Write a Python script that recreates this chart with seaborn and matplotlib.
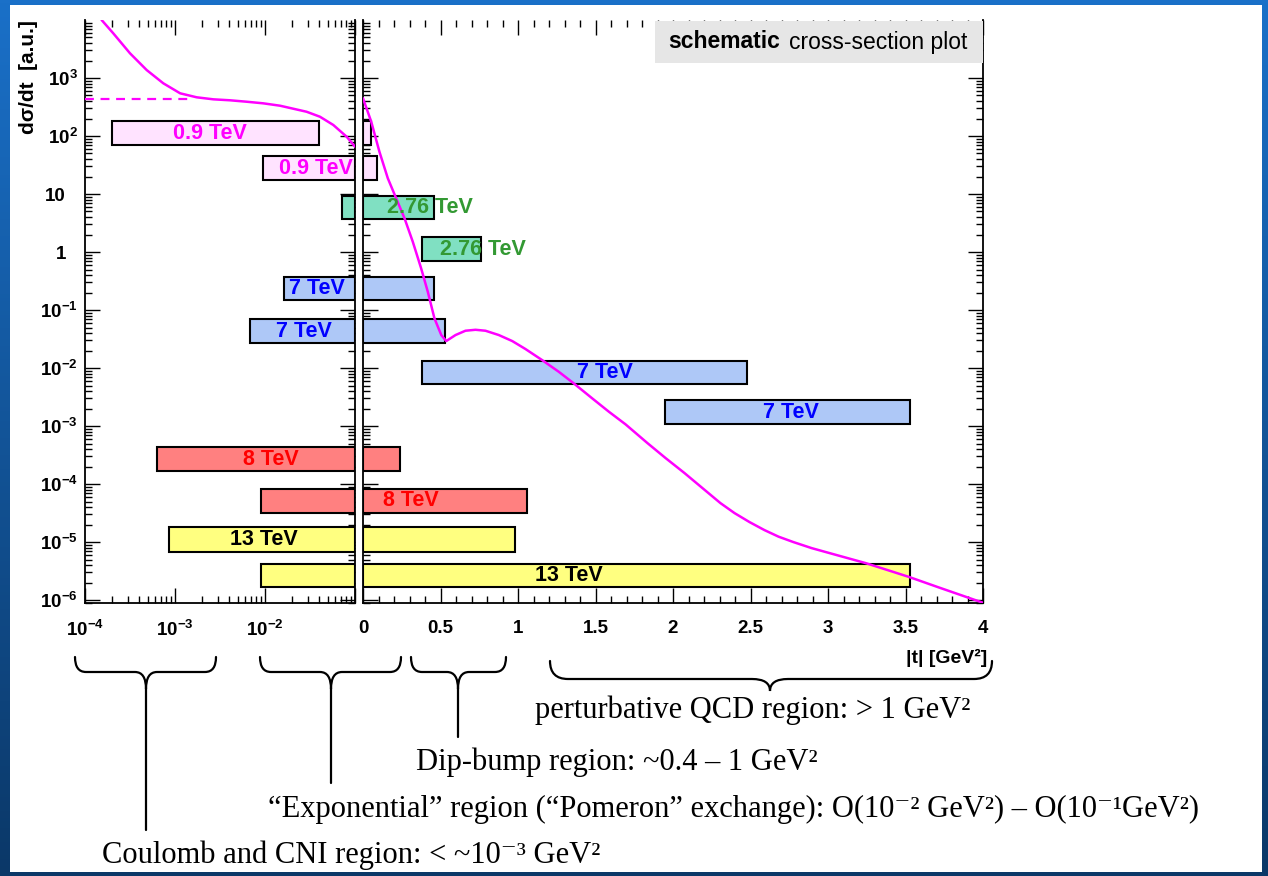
import numpy as np
import matplotlib
matplotlib.use("Agg")
import matplotlib.pyplot as plt
import matplotlib.transforms as mtransforms
from matplotlib.patches import Rectangle, PathPatch
from matplotlib.path import Path
from matplotlib.ticker import FixedLocator, FixedFormatter, NullFormatter
from matplotlib.colors import LinearSegmentedColormap
import seaborn as sns

nan = np.nan

# ---------------- data ----------------
bar_energy = ['0.9 TeV', '0.9 TeV', '2.76 TeV', '2.76 TeV', '7 TeV', '7 TeV',
              '7 TeV', '7 TeV', '8 TeV', '8 TeV', '13 TeV', '13 TeV']
bar_y_low = [70, 17.4, 3.7, 0.70, 0.149, 0.027, 5.3e-3, 1.08e-3, 1.67e-4, 3.2e-5, 6.7e-6, 1.67e-6]
bar_y_high = [181, 45, 9.2, 1.8, 0.37, 0.070, 0.0132, 2.8e-3, 4.3e-4, 8.2e-5, 1.82e-5, 4.2e-6]
# |t| coverage drawn in the logarithmic panel (nan = not drawn there)
bar_log_lo = [2.0e-4, 9.5e-3, 0.072, nan, 0.0163, 0.0068, nan, nan, 6.3e-4, 9.0e-3, 8.6e-4, 9.0e-3]
bar_log_hi = [0.04, 0.1, 0.1, nan, 0.1, 0.1, nan, nan, 0.1, 0.1, 0.1, 0.1]
# |t| coverage drawn in the linear panel
bar_lin_lo = [0, 0, 0, 0.38, 0, 0, 0.38, 1.95, 0, 0, 0, 0]
bar_lin_hi = [0.05, 0.09, 0.46, 0.76, 0.46, 0.53, 2.48, 3.53, 0.24, 1.06, 0.98, 3.53]

# schematic d(sigma)/dt curve, low-|t| (log) part
log_curve_t = [1.53e-4, 2.06e-4, 3.16e-4, 4.85e-4, 7.41e-4, 1.14e-3, 1.74e-3, 2.67e-3,
               4.08e-3, 6.27e-3, 9.57e-3, 1.47e-2, 2.90e-2, 4.08e-2, 5.74e-2, 8.09e-2, 0.1]
log_curve_y = [1.0e4, 5.9e3, 2.67e3, 1.37e3, 811, 545, 465, 429, 413, 390, 366, 333, 262,
               215, 155, 97, 65.5]
# nuclear-only plateau (dashed)
plateau_t = [1e-4, 1.5e-3]
plateau_y = [430, 430]
# linear part
lin_curve_t = [0.0, 0.053, 0.106, 0.160, 0.214, 0.268, 0.321, 0.375, 0.418, 0.461, 0.505,
               0.537, 0.597, 0.661, 0.726, 0.790, 0.876, 0.963, 1.048, 1.156, 1.263, 1.360,
               1.479, 1.586, 1.694, 1.835, 1.952, 2.074, 2.190, 2.306, 2.397, 2.494, 2.590,
               2.681, 2.777, 2.894, 3.010, 3.242, 3.365, 3.526, 3.713, 4.0]
lin_curve_y = [447, 177, 53.6, 18.7, 8.43, 3.81, 1.51, 0.524, 0.207, 0.0719, 0.0371,
               0.0292, 0.0371, 0.0440, 0.0457, 0.0440, 0.0371, 0.0292, 0.0213, 0.0137,
               8.63e-3, 5.44e-3, 3.0e-3, 1.77e-3, 1.07e-3, 5.09e-4, 2.81e-4, 1.55e-4,
               8.53e-5, 4.70e-5, 3.16e-5, 2.21e-5, 1.61e-5, 1.24e-5, 1.0e-5, 7.88e-6,
               6.46e-6, 4.35e-6, 3.42e-6, 2.49e-6, 1.66e-6, 9.0e-7]

y_ticks = [1e-6, 1e-5, 1e-4, 1e-3, 1e-2, 1e-1, 1, 10, 1e2, 1e3]
y_tick_labels = [r'$10^{-6}$', r'$10^{-5}$', r'$10^{-4}$', r'$10^{-3}$', r'$10^{-2}$',
                 r'$10^{-1}$', '1', '10', r'$10^{2}$', r'$10^{3}$']
xlog_ticks = [1e-4, 1e-3, 1e-2, 1e-1]
xlog_tick_labels = [r'$10^{-4}$', r'$10^{-3}$', r'$10^{-2}$', '']
xlin_ticks = [0, 0.5, 1, 1.5, 2, 2.5, 3, 3.5, 4]
xlin_tick_labels = ['0', '0.5', '1', '1.5', '2', '2.5', '3', '3.5', '4']

# label placement (style, not data)
label_panel = ['log', 'log', 'lin', 'lin', 'log', 'log', 'lin', 'lin', 'log', 'lin', 'log', 'lin']
label_x = [2.45e-3, 0.0369, 0.435, 0.771, 0.0378, 0.0271, 1.558, 2.758, 0.0117, 0.306, 9.75e-3, 1.326]

fill_col = {'0.9 TeV': '#ffe3ff', '2.76 TeV': '#80e0c2', '7 TeV': '#aec8f7',
            '8 TeV': '#ff8080', '13 TeV': '#ffff80'}
text_col = {'0.9 TeV': '#ff00ff', '2.76 TeV': '#339933', '7 TeV': '#0000ff',
            '8 TeV': '#ff0000', '13 TeV': '#000000'}

# ---------------- style ----------------
sns.set_theme(style='ticks', rc={'axes.edgecolor': 'black', 'xtick.color': 'black',
                                 'ytick.color': 'black', 'text.color': 'black'})
plt.rcParams['font.family'] = ['Liberation Sans', 'DejaVu Sans']
plt.rcParams['mathtext.fontset'] = 'custom'
plt.rcParams['mathtext.rm'] = 'Liberation Sans:bold'
plt.rcParams['mathtext.bf'] = 'Liberation Sans:bold'
plt.rcParams['mathtext.it'] = 'Liberation Sans:bold'
plt.rcParams['mathtext.default'] = 'rm'

W, H = 1268, 876
fig = plt.figure(figsize=(W / 100, H / 100), dpi=100)


def px_rect(x0, y0, x1, y1):
    return [x0 / W, 1 - y1 / H, (x1 - x0) / W, (y1 - y0) / H]


# frame background
bg = fig.add_axes([0, 0, 1, 1], zorder=0)
grad = np.linspace(0, 1, 256)[:, None]
cmap = LinearSegmentedColormap.from_list('frame', ['#1a70c8', '#0b3868'])
bg.imshow(grad, aspect='auto', cmap=cmap, extent=[0, 1, 0, 1])
bg.add_patch(Rectangle((10 / W, 1 - 872 / H), (1262 - 10) / W, (872 - 5) / H,
                       facecolor='white', edgecolor='none', transform=bg.transAxes))
bg.set_xlim(0, 1)
bg.set_ylim(0, 1)
bg.set_axis_off()

axL = fig.add_axes(px_rect(85, 20, 355, 603), zorder=2)
axR = fig.add_axes(px_rect(363, 20, 983, 603), zorder=2)
ylim = (10 ** -6.05, 1e4)
for ax in (axL, axR):
    ax.set_facecolor('none')
    ax.set_yscale('log')
    ax.set_ylim(*ylim)
axL.set_xscale('log')
axL.set_xlim(1e-4, 1e-1)
axR.set_xlim(0, 4)

# bars
for i, en in enumerate(bar_energy):
    ylo, yhi = bar_y_low[i], bar_y_high[i]
    if not np.isnan(bar_log_lo[i]):
        axL.barh(y=ylo, width=bar_log_hi[i] - bar_log_lo[i], left=bar_log_lo[i],
                 height=yhi - ylo, align='edge', color=fill_col[en],
                 edgecolor='black', linewidth=1.5, zorder=2)
    axR.barh(y=ylo, width=bar_lin_hi[i] - bar_lin_lo[i], left=bar_lin_lo[i],
             height=yhi - ylo, align='edge', color=fill_col[en],
             edgecolor='black', linewidth=1.5, zorder=2)
    ax = axL if label_panel[i] == 'log' else axR
    ax.text(label_x[i], np.sqrt(ylo * yhi), en, color=text_col[en], ha='center',
            va='center', fontsize=15.5, fontweight='bold', zorder=6, clip_on=False)

# curve
sns.lineplot(x=log_curve_t, y=log_curve_y, ax=axL, color='#ff00ff', linewidth=1.8,
             sort=False, estimator=None, zorder=5)
sns.lineplot(x=plateau_t, y=plateau_y, ax=axL, color='#ff00ff', linewidth=1.6,
             linestyle=(0, (4, 3)), sort=False, estimator=None, zorder=5)
sns.lineplot(x=lin_curve_t, y=lin_curve_y, ax=axR, color='#ff00ff', linewidth=1.8,
             sort=False, estimator=None, zorder=5)
for ln in axL.lines + axR.lines:
    ln.set_solid_joinstyle('round')

# ticks
minor_log_x = [m * 10.0 ** e for e in (-4, -3, -2) for m in range(2, 10)]
minor_y = [m * 10.0 ** e for e in range(-7, 4) for m in range(2, 10)]
axL.xaxis.set_major_locator(FixedLocator(xlog_ticks))
axL.xaxis.set_major_formatter(FixedFormatter(xlog_tick_labels))
axL.xaxis.set_minor_locator(FixedLocator(minor_log_x))
axL.xaxis.set_minor_formatter(NullFormatter())
axR.xaxis.set_major_locator(FixedLocator(xlin_ticks))
axR.xaxis.set_major_formatter(FixedFormatter(xlin_tick_labels))
axR.xaxis.set_minor_locator(FixedLocator(list(np.arange(0, 4.01, 0.1))))
for ax in (axL, axR):
    ax.yaxis.set_major_locator(FixedLocator(y_ticks))
    ax.yaxis.set_minor_locator(FixedLocator(minor_y))
    ax.yaxis.set_minor_formatter(NullFormatter())
axL.yaxis.set_major_formatter(FixedFormatter(y_tick_labels))
axR.yaxis.set_major_formatter(NullFormatter())

for ax in (axL, axR):
    ax.tick_params(axis='both', which='both', direction='in', top=True, right=True,
                   labeltop=False, labelright=False, width=1.0, colors='black')
    ax.tick_params(axis='both', which='major', length=11)
    ax.tick_params(axis='both', which='minor', length=5)
    ax.tick_params(axis='x', which='major', pad=12, labelsize=13.5)
    ax.tick_params(axis='y', which='major', pad=5, labelsize=13.5)
    ax.spines['top'].set_visible(False)
    for s in ('left', 'right', 'bottom'):
        ax.spines[s].set_linewidth(1.3)
        ax.spines[s].set_color('black')
axR.tick_params(axis='y', labelleft=False)
for lab in axL.xaxis.get_ticklabels() + axR.xaxis.get_ticklabels() + axL.yaxis.get_ticklabels():
    lab.set_fontweight('bold')

# shift plain "1" and "10" labels left (ROOT style alignment)
shift = mtransforms.ScaledTranslation(-12 / 100, 0, fig.dpi_scale_trans)
for tk in axL.yaxis.get_major_ticks():
    if tk.label1.get_text() in ('1', '10'):
        tk.label1.set_transform(tk.label1.get_transform() + shift)

# overlay for annotations (pixel coordinates)
ov = fig.add_axes([0, 0, 1, 1], zorder=3)
ov.set_xlim(0, W)
ov.set_ylim(H, 0)
ov.set_axis_off()
ov.patch.set_alpha(0)

# schematic box
ov.add_patch(Rectangle((655, 21), 983 - 655, 42, facecolor='#e6e6e6', edgecolor='none'))
ov.text(668, 42, 'schematic', fontsize=16.5, fontweight='bold', ha='left', va='center')
ov.text(789, 42, 'cross-section plot', fontsize=16.5, ha='left', va='center')

# axis titles
ov.text(28, 20, 'd\u03c3/dt  [a.u.]', rotation=90, fontsize=15, fontweight='bold',
        ha='center', va='top')
ov.text(987, 658, '|t| [GeV\u00b2]', fontsize=14, fontweight='bold', ha='right',
        va='center')


def brace(x0, x1, xm, ytop, ymid, ytip, r=11):
    verts = [(x0, ytop), (x0, ymid), (x0 + r, ymid),
             (xm - r, ymid),
             (xm, ymid), (xm, ytip),
             (xm, ymid), (xm + r, ymid),
             (x1 - r, ymid),
             (x1, ymid), (x1, ytop)]
    codes = [Path.MOVETO, Path.CURVE3, Path.CURVE3, Path.LINETO, Path.CURVE3, Path.CURVE3,
             Path.CURVE3, Path.CURVE3, Path.LINETO, Path.CURVE3, Path.CURVE3]
    ov.add_patch(PathPatch(Path(verts, codes), facecolor='none', edgecolor='black',
                           linewidth=1.6, capstyle='round'))


brace(75, 216, 146, 657, 672, 689)
brace(260, 401, 331, 657, 672, 689)
brace(411, 506, 458, 657, 672, 689)
brace(550, 992, 770, 661, 679, 691, r=18)
for x, yb in ((146, 830), (331, 783), (458, 737)):
    ov.plot([x, x], [689, yb], color='black', linewidth=1.6)

serif = ['Liberation Serif', 'DejaVu Serif']
fs = 22
ov.text(535, 718, 'perturbative QCD region: > 1 GeV\u00b2', family=serif, fontsize=fs,
        ha='left', va='baseline')
ov.text(416, 770, 'Dip-bump region: ~0.4 \u2013 1 GeV\u00b2', family=serif, fontsize=fs,
        ha='left', va='baseline')
ov.text(268, 817, '\u201cExponential\u201d region (\u201cPomeron\u201d exchange): '
        'O(10\u207b\u00b2 GeV\u00b2) \u2013 O(10\u207b\u00b9GeV\u00b2)', family=serif,
        fontsize=fs, ha='left', va='baseline')
ov.text(102, 863, 'Coulomb and CNI region: < ~10\u207b\u00b3 GeV\u00b2', family=serif,
        fontsize=fs, ha='left', va='baseline')

fig.savefig('out.png', dpi=100)
